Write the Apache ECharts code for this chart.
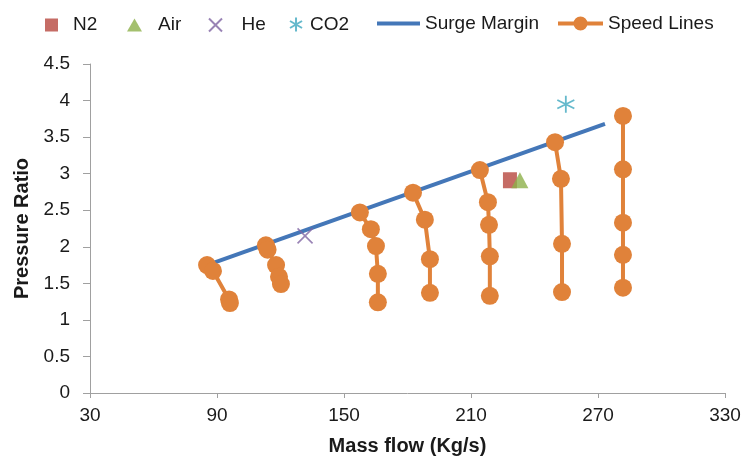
<!DOCTYPE html>
<html>
<head>
<meta charset="utf-8">
<script src="https://cdn.jsdelivr.net/npm/echarts@6/dist/echarts.min.js"></script>
<style>
  html, body { margin: 0; padding: 0; background: #fff; }
  #chart { width: 745px; height: 463px; }
</style>
</head>
<body>
<div id="chart"></div>
<script>
// Compressor map: surge margin, constant-speed lines and gas test points
const surgeFlow = [85.3, 273.3];
const surgeRatio = [1.75, 3.68];

const speedFlow = [
  [85.3, 88.1, 95.7, 96.1],
  [113.1, 113.9, 117.9, 119.3, 120.2],
  [157.5, 162.7, 165.1, 166.0, 166.0],
  [182.6, 188.2, 190.6, 190.6],
  [214.2, 218.0, 218.5, 218.9, 218.9],
  [249.7, 252.5, 253.0, 253.0],
  [281.8, 281.8, 281.8, 281.8, 281.8]
];
const speedRatio = [
  [1.75, 1.67, 1.28, 1.23],
  [2.02, 1.96, 1.75, 1.59, 1.49],
  [2.47, 2.24, 2.01, 1.63, 1.24],
  [2.74, 2.37, 1.83, 1.37],
  [3.05, 2.61, 2.30, 1.87, 1.33],
  [3.43, 2.93, 2.04, 1.38],
  [3.79, 3.06, 2.33, 1.89, 1.44]
];

const gasNames = ['N2', 'Air', 'He', 'CO2'];
const gasFlow = [228.4, 233.1, 131.6, 254.8];
const gasRatio = [2.91, 2.91, 2.15, 3.95];

const xTicks = [30, 330, 60];
const yTicks = [0, 4.5, 0.5];

const font = 'Liberation Sans, Arial, sans-serif';
const textColor = '#1a1a1a';
const axisColor = '#A0A0A0';
const blue = '#4477B8';
const orange = '#E0823A';

const gasStyles = [
  { symbol: 'rect', size: [14, 16], color: '#B7473F', border: 0 },
  { symbol: 'triangle', size: [17, 16], color: '#8DB04A', border: 0 },
  { symbol: 'path://M0,0L10,10M10,0L0,10', size: 15, color: '#8064A2', border: 1.6 },
  { symbol: 'path://M5,0L5,10M0.7,2.5L9.3,7.5M0.7,7.5L9.3,2.5', size: 17, color: '#3FA7BF', border: 1.8 }
];

const series = [];
gasNames.forEach((name, i) => {
  const s = gasStyles[i];
  series.push({
    name: name,
    type: 'scatter',
    symbol: s.symbol,
    symbolSize: s.size,
    itemStyle: s.border
      ? { color: 'rgba(0,0,0,0)', borderColor: s.color, borderWidth: s.border }
      : { color: s.color },
    data: [[gasFlow[i], gasRatio[i]]],
    z: 5
  });
});

series.push({
  name: 'Surge Margin',
  type: 'line',
  symbol: 'none',
  lineStyle: { color: blue, width: 4 },
  itemStyle: { color: blue },
  data: surgeFlow.map((x, i) => [x, surgeRatio[i]]),
  z: 2
});

speedFlow.forEach((flows, k) => {
  series.push({
    name: 'Speed Lines',
    type: 'line',
    symbol: 'circle',
    symbolSize: 18,
    showAllSymbol: true,
    lineStyle: { color: orange, width: 4 },
    itemStyle: { color: orange },
    data: flows.map((x, i) => [x, speedRatio[k][i]]),
    z: 3
  });
});

// Legend icons: plain bar for the surge line, bar with a dot for the speed lines
const barIcon = 'path://M0,0h43v4h-43z';
const dotBarIcon = 'path://M0,5h45v4h-45z M22.5,0a7,7 0 1,1 -0.01,0z';

// One legend block per entry so each sits at its own spot along the top
const legendSlots = [
  { name: 'N2', left: 45, top: 15.5, w: 13, h: 13, pad: 10 },
  { name: 'Air', left: 127, top: 15.5, w: 15, h: 13, pad: 11 },
  { name: 'He', left: 208, top: 15.5, w: 14, h: 13, pad: 14 },
  { name: 'CO2', left: 289, top: 15, w: 14, h: 14, pad: 2 },
  { name: 'Surge Margin', left: 377, top: 14, w: 43, h: 4, pad: 0, icon: barIcon },
  { name: 'Speed Lines', left: 558, top: 14, w: 45, h: 14, pad: 0, icon: dotBarIcon }
];
const legends = legendSlots.map(l => ({
  top: l.top,
  left: l.left,
  padding: 0,
  itemWidth: l.w,
  itemHeight: l.h,
  selectedMode: false,
  textStyle: { fontFamily: font, fontSize: 19, color: textColor, padding: [0, 0, 0, l.pad] },
  data: [l.icon ? { name: l.name, icon: l.icon } : l.name]
}));

const chart = echarts.init(document.getElementById('chart'), null, { renderer: 'canvas' });
chart.setOption({
  animation: false,
  backgroundColor: '#fff',
  grid: { left: 90, right: 20, top: 64, bottom: 70 },
  legend: legends,
  xAxis: {
    type: 'value',
    min: xTicks[0], max: xTicks[1], interval: xTicks[2],
    name: 'Mass flow (Kg/s)',
    nameLocation: 'middle',
    nameGap: 43,
    nameTextStyle: { fontFamily: font, fontSize: 20, fontWeight: 'bold', color: textColor },
    axisLine: { lineStyle: { color: axisColor, width: 1 } },
    axisTick: { show: true, length: 5, lineStyle: { color: axisColor } },
    axisLabel: { fontFamily: font, fontSize: 19, color: textColor, margin: 13 },
    splitLine: { show: false }
  },
  yAxis: {
    type: 'value',
    min: yTicks[0], max: yTicks[1], interval: yTicks[2],
    name: 'Pressure Ratio',
    nameLocation: 'middle',
    nameGap: 57,
    nameTextStyle: { fontFamily: font, fontSize: 20, fontWeight: 'bold', color: textColor },
    axisLine: { show: true, lineStyle: { color: axisColor, width: 1 } },
    axisTick: { show: true, length: 7, lineStyle: { color: axisColor } },
    axisLabel: { fontFamily: font, fontSize: 19, color: textColor, margin: 20 },
    splitLine: { show: false }
  },
  series: series
});
</script>
</body>
</html>
